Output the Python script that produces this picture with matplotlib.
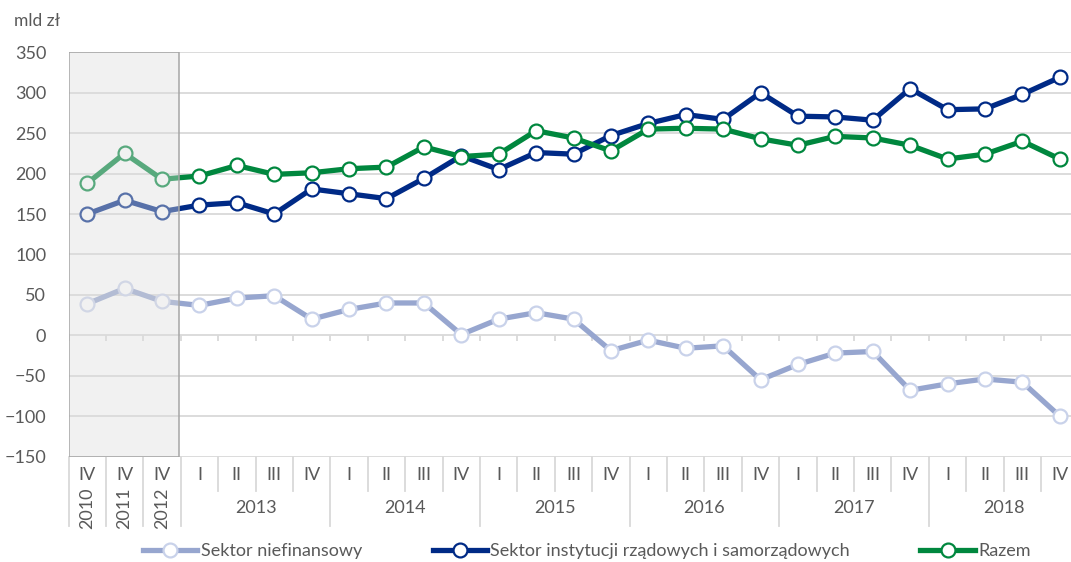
import matplotlib.pyplot as plt
import matplotlib.transforms as mtransforms
from matplotlib.patches import Rectangle
from matplotlib.lines import Line2D
import numpy as np

plt.rcParams['font.family'] = ['Lato', 'DejaVu Sans']
plt.rcParams['font.size'] = 13

# dane (mld zł)
kwartaly = ['IV', 'IV', 'IV',
            'I', 'II', 'III', 'IV', 'I', 'II', 'III', 'IV',
            'I', 'II', 'III', 'IV', 'I', 'II', 'III', 'IV',
            'I', 'II', 'III', 'IV', 'I', 'II', 'III', 'IV']
lata_pojedyncze = ['2010', '2011', '2012']
lata = ['2013', '2014', '2015', '2016', '2017', '2018']

niefinansowy = [39, 58, 42, 37, 46, 49, 20, 32, 40, 40, 1, 20, 28, 20,
                -19, -6, -16, -13, -55, -36, -22, -20, -68, -60, -54, -58, -100]
rzadowy = [150, 167, 153, 161, 164, 150, 181, 175, 169, 194, 222, 205, 226,
           224, 247, 262, 273, 267, 300, 271, 270, 266, 305, 279, 280, 298, 319]
razem = [188, 225, 193, 197, 210, 199, 201, 206, 208, 233, 221, 224, 253,
         244, 228, 255, 256, 255, 243, 235, 246, 244, 235, 218, 224, 240, 218]

c_nief = '#97A6CF'
c_rzad = '#002A86'
c_raz = '#00873E'
txt = '#595959'
grid_c = '#D9D9D9'

fig = plt.figure(figsize=(10.71, 5.62), dpi=100)
ax = fig.add_axes([0.064, 0.1875, 0.936, 0.7195])

x = np.arange(len(kwartaly))
styl = dict(lw=3.8, marker='o', markersize=10, markerfacecolor='white',
            markeredgewidth=1.6, solid_capstyle='round', zorder=3)
ax.plot(x, niefinansowy, color=c_nief, markeredgecolor='#C9D2EA', **styl)
ax.plot(x, rzadowy, color=c_rzad, markeredgecolor=c_rzad, **styl)
ax.plot(x, razem, color=c_raz, markeredgecolor=c_raz, **styl)

ax.set_xlim(-0.5, 26.3)
ax.set_ylim(-150, 350)
ax.set_yticks(np.arange(-150, 351, 50))
ax.tick_params(axis='y', length=0, pad=16, labelcolor=txt, labelsize=13)
ax.set_xticks([])
for s in ax.spines.values():
    s.set_visible(False)
ax.grid(axis='y', color=grid_c, lw=1.3)
ax.set_axisbelow(True)

# zaciemniony okres 2010-2012
ax.add_patch(Rectangle((-0.5, -150), 2.95, 500, facecolor=(0.87, 0.87, 0.87, 0.4),
                       edgecolor='#A6A6A6', lw=1.1, zorder=5))

# znaczniki na osi zero
granice = np.arange(-0.5, 26.6, 1)
ax.vlines(granice, -7, 0, color=grid_c, lw=1.3, zorder=1)

# etykiety osi kategorii
tr = mtransforms.blended_transform_factory(ax.transData, ax.transAxes)
dlugie = [-0.5, 0.5, 1.5, 2.5, 6.5, 10.5, 14.5, 18.5, 22.5]
for g in granice:
    y0 = -0.172 if g in dlugie else -0.084
    ax.plot([g, g], [0, y0], color=grid_c, lw=1.3, transform=tr, clip_on=False)
for i, q in enumerate(kwartaly):
    ax.text(i, -0.045, q, transform=tr, ha='center', va='center', color=txt, fontsize=13)
for i, r in enumerate(lata_pojedyncze):
    ax.text(i, -0.128, r, transform=tr, ha='center', va='center', rotation=90,
            color=txt, fontsize=13)
for j, r in enumerate(lata):
    ax.text(4.5 + 4 * j, -0.127, r, transform=tr, ha='center', va='center',
            color=txt, fontsize=13)

fig.text(14 / 1071, 1 - 21 / 562, 'mld zł', ha='left', va='center', color=txt, fontsize=12.5)

uchwyty = [
    Line2D([], [], color=c_nief, lw=3.8, marker='o', markersize=10,
           markerfacecolor='white', markeredgecolor='#C9D2EA', markeredgewidth=1.6),
    Line2D([], [], color=c_rzad, lw=3.8, marker='o', markersize=10,
           markerfacecolor='white', markeredgecolor=c_rzad, markeredgewidth=1.6),
    Line2D([], [], color=c_raz, lw=3.8, marker='o', markersize=10,
           markerfacecolor='white', markeredgecolor=c_raz, markeredgewidth=1.6),
]
etykiety = ['Sektor niefinansowy', 'Sektor instytucji rządowych i samorządowych', 'Razem']
leg = fig.legend(uchwyty, etykiety, loc='center', bbox_to_anchor=(587 / 1071, 1 - 551 / 562),
                 ncol=3, frameon=False, numpoints=1, handlelength=3.0, handletextpad=0.2,
                 columnspacing=3.9, fontsize=13)
for t in leg.get_texts():
    t.set_color(txt)

fig.savefig('out.png', dpi=100)
